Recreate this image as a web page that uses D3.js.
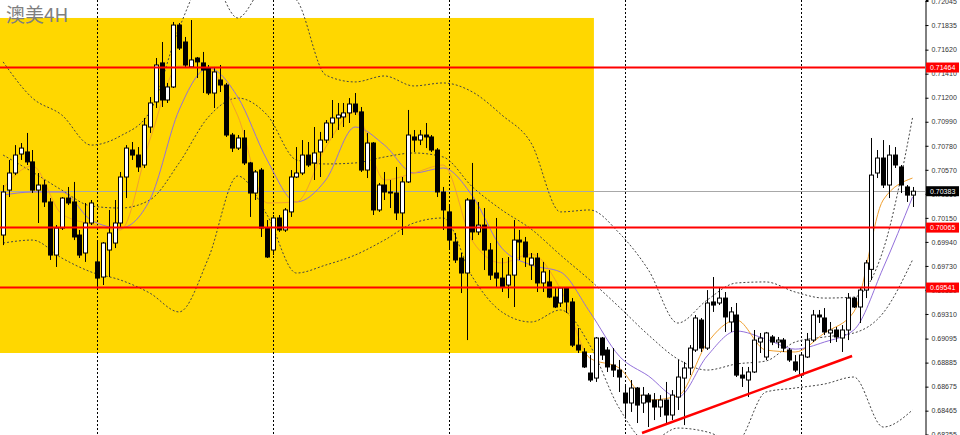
<!DOCTYPE html>
<html>
<head>
<meta charset="utf-8">
<script src="https://cdn.jsdelivr.net/npm/d3@7/dist/d3.min.js"></script>
<style>
  body { margin: 0; background: #fff; }
  svg { display: block; }
</style>
</head>
<body>
<div id="chart"></div>
<script>
(function() {
  'use strict';

  // AUDUSD 4H candles, oldest first
  var opens = [
    0.70000, 0.70393, 0.70542, 0.70708, 0.70726, 0.70639, 0.70393, 0.70437, 0.70289, 0.69825,
    0.70061, 0.70323, 0.70289, 0.70000, 0.69843, 0.70105, 0.69765, 0.69633, 0.69869, 0.69930,
    0.70105, 0.70507, 0.70743, 0.70699, 0.70612, 0.70944, 0.71163, 0.71504, 0.71180, 0.71294,
    0.71835, 0.71687, 0.71469, 0.71547, 0.71504, 0.71460, 0.71241, 0.71355, 0.71311, 0.70874,
    0.70760, 0.70848, 0.70630, 0.70367, 0.70568, 0.70061, 0.69869, 0.70149, 0.70044, 0.70202,
    0.70507, 0.70542, 0.70699, 0.70630, 0.70726, 0.70830, 0.70979, 0.71023, 0.71032, 0.71067,
    0.71145, 0.71076, 0.70568, 0.70804, 0.70219, 0.70437, 0.70376, 0.70367, 0.70193, 0.70464,
    0.70857, 0.70830, 0.70874, 0.70857, 0.70743, 0.70376, 0.70202, 0.69939, 0.69799, 0.69668,
    0.70306, 0.70027, 0.70087, 0.69869, 0.69668, 0.69624, 0.69563, 0.69650, 0.69956, 0.69939,
    0.69738, 0.69799, 0.69581, 0.69590, 0.69458, 0.69406, 0.69537, 0.69415, 0.69038, 0.68978,
    0.68794, 0.68750, 0.69100, 0.68995, 0.68864, 0.68820, 0.68619, 0.68532, 0.68663, 0.68532,
    0.68601, 0.68558, 0.68497, 0.68558, 0.68427, 0.68584, 0.68750, 0.68838, 0.68995, 0.69257,
    0.69012, 0.69415, 0.69406, 0.69449, 0.69240, 0.69301, 0.68776, 0.68733, 0.68803, 0.69065,
    0.68934, 0.69109, 0.69065, 0.69082, 0.68995, 0.68891, 0.68776, 0.68934, 0.69082, 0.69301,
    0.69275, 0.69144, 0.69170, 0.69100, 0.69170, 0.69449, 0.69371, 0.69519, 0.69700, 0.70542,
    0.70673, 0.70437, 0.70699, 0.70595, 0.70420, 0.70349
  ];
  var highs = [
    0.70437, 0.70656, 0.70786, 0.70804, 0.70892, 0.70743, 0.70542, 0.70481, 0.70323, 0.70087,
    0.70332, 0.70420, 0.70464, 0.70044, 0.70280, 0.70306, 0.69956, 0.69939, 0.70219, 0.70306,
    0.70551, 0.70786, 0.70813, 0.70769, 0.71023, 0.71206, 0.71547, 0.71687, 0.71329, 0.71862,
    0.71853, 0.71731, 0.71879, 0.71556, 0.71600, 0.71486, 0.71469, 0.71486, 0.71329, 0.70892,
    0.70874, 0.70918, 0.70639, 0.70568, 0.70586, 0.70131, 0.70175, 0.70175, 0.70236, 0.70568,
    0.70769, 0.70830, 0.70813, 0.70944, 0.70901, 0.71005, 0.71180, 0.71154, 0.71154, 0.71197,
    0.71241, 0.71119, 0.70892, 0.70813, 0.70455, 0.70551, 0.70481, 0.70595, 0.70507, 0.71093,
    0.70918, 0.70918, 0.70979, 0.70874, 0.70760, 0.70420, 0.70262, 0.70018, 0.69843, 0.70323,
    0.70630, 0.70289, 0.70236, 0.69930, 0.70149, 0.69799, 0.69808, 0.70131, 0.70044, 0.69983,
    0.69843, 0.69843, 0.69765, 0.69694, 0.69546, 0.69546, 0.69546, 0.69449, 0.69187, 0.69012,
    0.68951, 0.69109, 0.69109, 0.69021, 0.69012, 0.68908, 0.68689, 0.68733, 0.68672, 0.68672,
    0.68619, 0.68619, 0.68601, 0.68716, 0.68645, 0.68908, 0.68891, 0.69038, 0.69301, 0.69275,
    0.69519, 0.69633, 0.69546, 0.69502, 0.69371, 0.69406, 0.68847, 0.68847, 0.69170, 0.69144,
    0.69153, 0.69126, 0.69109, 0.69100, 0.69012, 0.68951, 0.68969, 0.69144, 0.69345, 0.69345,
    0.69362, 0.69240, 0.69196, 0.69213, 0.69493, 0.69458, 0.69546, 0.69782, 0.70848, 0.70743,
    0.70830, 0.70786, 0.70769, 0.70612, 0.70437, 0.70420
  ];
  var lows = [
    0.69912, 0.70332, 0.70524, 0.70656, 0.70612, 0.70367, 0.70105, 0.70245, 0.69782, 0.69721,
    0.70044, 0.70262, 0.69956, 0.69799, 0.69765, 0.70087, 0.69546, 0.69563, 0.69633, 0.69886,
    0.70070, 0.70323, 0.70656, 0.70551, 0.70586, 0.70892, 0.71110, 0.71119, 0.71154, 0.71285,
    0.71617, 0.71469, 0.71460, 0.71372, 0.71241, 0.71223, 0.71110, 0.71250, 0.70857, 0.70726,
    0.70743, 0.70612, 0.70158, 0.70306, 0.69983, 0.69799, 0.69825, 0.70027, 0.70027, 0.70158,
    0.70498, 0.70524, 0.70595, 0.70481, 0.70507, 0.70804, 0.70848, 0.70918, 0.70944, 0.70979,
    0.71049, 0.70551, 0.70498, 0.70175, 0.70202, 0.70306, 0.70236, 0.70131, 0.70000, 0.70455,
    0.70726, 0.70786, 0.70760, 0.70726, 0.70332, 0.70044, 0.69869, 0.69756, 0.69493, 0.69082,
    0.69956, 0.70000, 0.69694, 0.69607, 0.69546, 0.69502, 0.69449, 0.69371, 0.69782, 0.69721,
    0.69607, 0.69502, 0.69502, 0.69449, 0.69362, 0.69371, 0.69319, 0.69021, 0.68969, 0.68838,
    0.68716, 0.68716, 0.68908, 0.68803, 0.68759, 0.68628, 0.68410, 0.68454, 0.68357, 0.68445,
    0.68322, 0.68383, 0.68410, 0.68357, 0.68383, 0.68471, 0.68339, 0.68776, 0.68978, 0.68978,
    0.68995, 0.69328, 0.69388, 0.69153, 0.69153, 0.68759, 0.68672, 0.68584, 0.68794, 0.68969,
    0.68908, 0.69038, 0.69012, 0.68978, 0.68891, 0.68803, 0.68759, 0.68925, 0.69065, 0.69231,
    0.69126, 0.69056, 0.69065, 0.68978, 0.69082, 0.69362, 0.69231, 0.69449, 0.69607, 0.70498,
    0.70411, 0.70323, 0.70586, 0.70367, 0.70289, 0.70245
  ];
  var closes = [
    0.70376, 0.70542, 0.70699, 0.70760, 0.70639, 0.70393, 0.70437, 0.70289, 0.69825, 0.70061,
    0.70323, 0.70280, 0.69983, 0.69825, 0.70105, 0.70280, 0.69624, 0.69930, 0.70018, 0.70105,
    0.70507, 0.70760, 0.70699, 0.70595, 0.70961, 0.71154, 0.71486, 0.71180, 0.71294, 0.71835,
    0.71634, 0.71486, 0.71530, 0.71513, 0.71442, 0.71241, 0.71425, 0.71311, 0.70874, 0.70760,
    0.70848, 0.70630, 0.70367, 0.70551, 0.70061, 0.69808, 0.70149, 0.70044, 0.70219, 0.70507,
    0.70542, 0.70699, 0.70612, 0.70717, 0.70830, 0.70979, 0.71023, 0.71049, 0.71067, 0.71145,
    0.71076, 0.70568, 0.70804, 0.70219, 0.70437, 0.70376, 0.70367, 0.70193, 0.70464, 0.70874,
    0.70830, 0.70874, 0.70857, 0.70743, 0.70376, 0.70219, 0.69956, 0.69782, 0.69668, 0.70306,
    0.70027, 0.70087, 0.69869, 0.69650, 0.69624, 0.69546, 0.69650, 0.69956, 0.69939, 0.69808,
    0.69799, 0.69581, 0.69677, 0.69458, 0.69371, 0.69537, 0.69415, 0.69038, 0.68995, 0.68847,
    0.68733, 0.69100, 0.68951, 0.68847, 0.68820, 0.68759, 0.68532, 0.68663, 0.68514, 0.68601,
    0.68541, 0.68497, 0.68558, 0.68427, 0.68601, 0.68759, 0.68838, 0.69012, 0.69275, 0.69012,
    0.69406, 0.69388, 0.69449, 0.69284, 0.69328, 0.68776, 0.68750, 0.68803, 0.69082, 0.69100,
    0.69144, 0.69065, 0.69082, 0.69012, 0.68908, 0.68820, 0.68951, 0.69082, 0.69301, 0.69284,
    0.69153, 0.69170, 0.69109, 0.69170, 0.69449, 0.69371, 0.69519, 0.69756, 0.70524, 0.70673,
    0.70437, 0.70699, 0.70612, 0.70437, 0.70349, 0.70383
  ];

  // indicator readings, one value every 5 bars
  var sampleStep = 5;
  var bandUpper = [
    0.71513, 0.71197, 0.71049, 0.70786, 0.70866, 0.71076, 0.71809, 0.72273, 0.71897, 0.72185,
    0.72054, 0.71398, 0.71338, 0.71390, 0.71303, 0.71329, 0.71250, 0.71049, 0.70804, 0.70202,
    0.70219, 0.70018, 0.69694, 0.69231, 0.69432, 0.69581, 0.69590, 0.69502, 0.69449, 0.69458,
    0.69869, 0.71023
  ];
  var bandMiddle = [
    0.70699, 0.70551, 0.70393, 0.70254, 0.70236, 0.70306, 0.70630, 0.71032, 0.71197, 0.71049,
    0.70656, 0.70621, 0.70630, 0.70682, 0.70717, 0.70682, 0.70420, 0.70219, 0.70052, 0.69825,
    0.69607, 0.69371, 0.69126, 0.68916, 0.68820, 0.68873, 0.68899, 0.69065, 0.69109, 0.69144,
    0.69319, 0.69782
  ];
  var bandLower = [
    0.69930, 0.69956, 0.69799, 0.69677, 0.69607, 0.69493, 0.69328, 0.69799, 0.70516, 0.70175,
    0.69668, 0.69738, 0.69825, 0.69956, 0.70105, 0.70149, 0.69633, 0.69328, 0.69240, 0.69345,
    0.69038, 0.68488, 0.68191, 0.68313, 0.68279, 0.68191, 0.68628, 0.68663, 0.68698, 0.68759,
    0.68322, 0.68471
  ];
  var maFast = [
    0.70411, 0.70604, 0.70184, 0.70096, 0.70044, 0.70830, 0.71478, 0.71442, 0.71041, 0.70280,
    0.70289, 0.70769, 0.71076, 0.70481, 0.70542, 0.70612, 0.69947, 0.69756, 0.69834, 0.69528,
    0.68925, 0.68838, 0.68558, 0.68593, 0.69056, 0.69257, 0.68995, 0.68978, 0.69144, 0.69328,
    0.70306, 0.70498
  ];
  var maSlow = [
    0.70349, 0.70376, 0.70376, 0.70131, 0.70061, 0.70306, 0.71093, 0.71460, 0.71206, 0.70656,
    0.70289, 0.70481, 0.70944, 0.70786, 0.70542, 0.70586, 0.70341, 0.69886, 0.69738, 0.69677,
    0.69328, 0.68943, 0.68768, 0.68584, 0.68943, 0.69161, 0.69091, 0.69003, 0.69065, 0.69170,
    0.69712, 0.70332
  ];

  var levels = [0.71464, 0.70065, 0.69541];
  var lastPrice = 0.70383;
  var priceTicks = [
    0.72045, 0.71835, 0.71620, 0.71410, 0.71200, 0.70990, 0.70780, 0.70570, 0.70360, 0.70150,
    0.69940, 0.69730, 0.69520, 0.69310, 0.69095, 0.68885, 0.68675, 0.68465, 0.68255
  ];
  var separators = [16, 46, 76, 106, 136];
  var zone = { fromBar: -2, toBar: 100.7, top: 0.71897, bottom: 0.68969 };
  var trend = [[108.9, 0.68270], [144.7, 0.68943]];
  var title = '澳美4H';

  var width = 960;
  var height = 435;
  var plotRight = 925;

  var x = d3.scaleLinear().domain([0, 155]).range([3.1, 912.5]);
  var y = d3.scaleLinear().domain([0.68255, 0.72054]).range([434.7, 0]);

  var svg = d3.select('#chart').append('svg')
    .attr('width', width)
    .attr('height', height)
    .style('font-family', 'Liberation Sans, Arial, sans-serif');

  svg.append('defs').append('clipPath').attr('id', 'plot')
    .append('rect').attr('width', plotRight).attr('height', height);

  var plot = svg.append('g').attr('clip-path', 'url(#plot)');

  function px(v) { return Math.round(v) + 0.5; }

  // yellow box
  plot.append('rect')
    .attr('x', x(zone.fromBar))
    .attr('y', y(zone.top))
    .attr('width', x(zone.toBar) - x(zone.fromBar))
    .attr('height', y(zone.bottom) - y(zone.top))
    .attr('fill', '#ffd700');

  // period separators
  plot.selectAll('.sep').data(separators).enter().append('line')
    .attr('x1', function(d) { return px(x(d)); })
    .attr('x2', function(d) { return px(x(d)); })
    .attr('y1', 0).attr('y2', height)
    .attr('stroke', '#000').attr('stroke-width', 1)
    .attr('stroke-dasharray', '2,2');

  // last price line
  plot.append('line')
    .attr('x1', 0).attr('x2', plotRight)
    .attr('y1', px(y(lastPrice))).attr('y2', px(y(lastPrice)))
    .attr('stroke', '#a8a8a8').attr('stroke-width', 1);

  var sampled = d3.line()
    .x(function(d, i) { return x(i * sampleStep); })
    .y(function(d) { return y(d); })
    .curve(d3.curveMonotoneX);

  [bandUpper, bandMiddle, bandLower].forEach(function(s) {
    plot.append('path').datum(s)
      .attr('d', sampled)
      .attr('fill', 'none')
      .attr('stroke', '#444')
      .attr('stroke-width', 1)
      .attr('stroke-dasharray', '2,2');
  });

  plot.append('path').datum(maSlow)
    .attr('d', sampled)
    .attr('fill', 'none')
    .attr('stroke', '#9370db')
    .attr('stroke-width', 1);

  plot.append('path').datum(maFast)
    .attr('d', sampled)
    .attr('fill', 'none')
    .attr('stroke', '#f0a030')
    .attr('stroke-width', 1);

  // candles
  var bars = d3.range(opens.length);
  var candle = plot.selectAll('.candle').data(bars).enter().append('g');

  candle.append('line')
    .attr('x1', function(i) { return px(x(i)); })
    .attr('x2', function(i) { return px(x(i)); })
    .attr('y1', function(i) { return y(highs[i]); })
    .attr('y2', function(i) { return y(lows[i]); })
    .attr('stroke', '#000').attr('stroke-width', 1);

  candle.append('rect')
    .attr('x', function(i) { return Math.round(x(i)) - 1.5; })
    .attr('width', 4)
    .attr('y', function(i) { return y(Math.max(opens[i], closes[i])); })
    .attr('height', function(i) {
      return Math.max(1, Math.abs(y(opens[i]) - y(closes[i])));
    })
    .attr('fill', function(i) { return closes[i] >= opens[i] ? '#fff' : '#000'; })
    .attr('stroke', '#000').attr('stroke-width', 1);

  // horizontal levels
  plot.selectAll('.level').data(levels).enter().append('line')
    .attr('x1', 0).attr('x2', plotRight)
    .attr('y1', function(d) { return y(d); })
    .attr('y2', function(d) { return y(d); })
    .attr('stroke', '#ff0000').attr('stroke-width', 2);

  // trend line
  plot.append('line')
    .attr('x1', x(trend[0][0])).attr('y1', y(trend[0][1]))
    .attr('x2', x(trend[1][0])).attr('y2', y(trend[1][1]))
    .attr('stroke', '#ff0000').attr('stroke-width', 2.5);

  // price axis
  var axis = d3.axisRight(y)
    .tickValues(priceTicks)
    .tickSize(3)
    .tickPadding(3)
    .tickFormat(d3.format('.5f'));

  var ax = svg.append('g')
    .attr('transform', 'translate(' + (plotRight + 0.5) + ',0)')
    .call(axis);
  ax.select('.domain').attr('stroke', '#000');
  ax.selectAll('.tick line').attr('stroke', '#000');
  ax.selectAll('.tick text')
    .attr('fill', '#333')
    .style('font-size', '7px')
    .style('font-family', 'Liberation Sans, Arial, sans-serif');

  function tag(value, color) {
    var g = svg.append('g').attr('transform', 'translate(' + (plotRight + 1) + ',' + y(value) + ')');
    g.append('rect')
      .attr('x', 0).attr('y', -5)
      .attr('width', 33).attr('height', 10)
      .attr('fill', color);
    g.append('text')
      .attr('x', 4).attr('y', 2.5)
      .attr('fill', '#fff')
      .style('font-size', '7px')
      .text(d3.format('.5f')(value));
  }

  levels.forEach(function(l) { tag(l, '#ff0000'); });
  tag(lastPrice, '#000');

  svg.append('text')
    .attr('x', 6).attr('y', 22)
    .attr('fill', '#7f7f7f')
    .style('font-family', 'Noto Sans CJK SC, sans-serif')
    .style('font-size', '19px')
    .text(title);
})();
</script>
</body>
</html>
